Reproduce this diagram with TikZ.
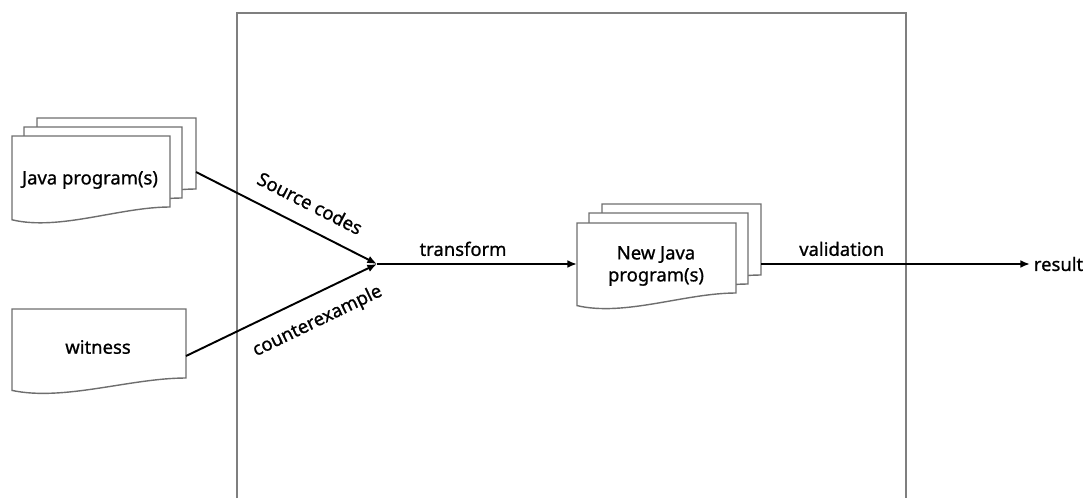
\documentclass[tikz,border=0pt]{standalone}
\usepackage{fontspec}
\setmainfont{Noto Sans}[FakeBold=0.9]
\usetikzlibrary{arrows.meta,positioning,calc}
\definecolor{framegray}{HTML}{7F7F7F}
\definecolor{sheetgray}{HTML}{6E6E6E}
\tikzset{
  sheet/.style={draw=sheetgray, fill=white, line width=0.8pt},
  framebox/.style={draw=framegray, line width=1pt},
  flowarrow/.style={-{Latex[length=5.5pt,width=4.5pt]}, line width=1.1pt, color=black},
  flowlabel/.style={font=\fontsize{10.5}{12.5}\selectfont, inner sep=2pt},
  doclabel/.style={font=\fontsize{10.5}{12.5}\selectfont, align=center},
}
% document sheet with wavy bottom: top-left x, y, width, height (pixel units)
\newcommand{\docsheet}[4]{%
  \draw[sheet] (#1,#2) -- ({#1+#3},#2) -- ({#1+#3},{#2+#4})
    .. controls ({#1+0.68*#3},{#2+#4}) and ({#1+0.3*#3},{#2+1.34*#4})
    .. (#1,{#2+1.18*#4}) -- cycle;}

\begin{document}
\begin{tikzpicture}[x=0.02cm, y=-0.02cm]
  \useasboundingbox (0,0) rectangle (1086,498);

  % tool frame (open at the bottom)
  \draw[framebox] (237,498) -- (237,13) -- (906,13) -- (906,498);

  % input documents
  \docsheet{37}{118}{159}{71}
  \docsheet{24}{127}{158}{71}
  \docsheet{12}{136}{158}{71}
  \node[doclabel] (javaprog) at (90,180) {Java program(s)};

  \docsheet{12}{309}{174}{69}
  \node[doclabel] (witness) at (98,347) {witness};

  % generated programs
  \docsheet{602}{204}{159}{71}
  \docsheet{589}{213}{159}{71}
  \docsheet{577}{223}{159}{70}
  \node[doclabel] (newjava) at (656,266) {New Java\\program(s)};

  \coordinate (javaout) at (196,172);
  \coordinate (witout) at (186,356);
  \coordinate (join) at (377,264);
  \coordinate (newin) at (577,264);
  \coordinate (newout) at (761,264);
  \node[flowlabel, anchor=west] (result) at (1030,264) {result};

  % flows
  \draw[flowarrow] (javaout) -- (join)
    node[flowlabel, pos=0.57, above=7pt, sloped] (srclbl) {Source codes};
  \draw[flowarrow] (witout) -- (join)
    node[flowlabel, pos=0.63, below=7pt, sloped] (cexlbl) {counterexample};
  \draw[flowarrow] (join) -- (newin)
    node[flowlabel, pos=0.43, above=2pt] (trlbl) {transform};
  \draw[flowarrow] (newout) -- (result)
    node[flowlabel, pos=0.3, above=2pt] (vallbl) {validation};
\end{tikzpicture}
\end{document}
